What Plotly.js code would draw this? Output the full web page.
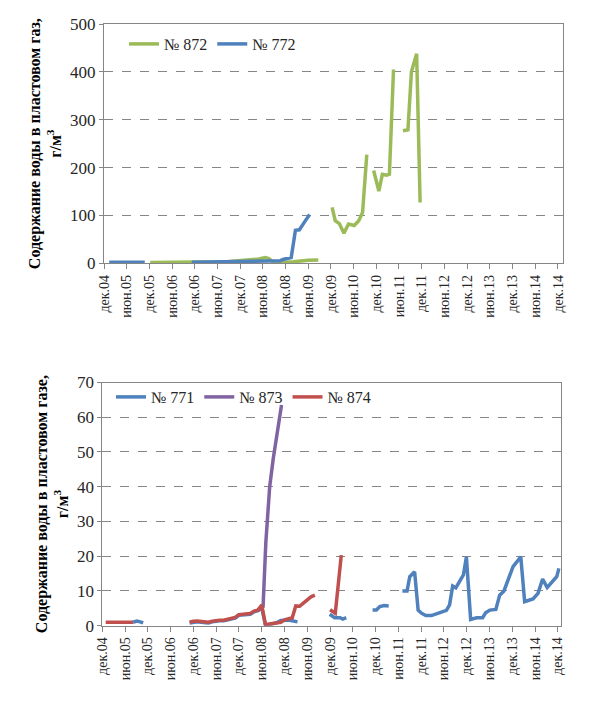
<!DOCTYPE html>
<html>
<head>
<meta charset="utf-8">
<script src="https://cdn.plot.ly/plotly-3.0.1.min.js"></script>
<style>
html,body{margin:0;padding:0;background:#fff;}
#chart{width:599px;height:725px;}
</style>
</head>
<body>
<div id="chart"></div>
<script>
// ---- tick labels (shared by both charts) ----
var tickDates = ['2004-12-01','2005-06-01','2005-12-01','2006-06-01','2006-12-01','2007-06-01','2007-12-01',
  '2008-06-01','2008-12-01','2009-06-01','2009-12-01','2010-06-01','2010-12-01','2011-06-01','2011-12-01',
  '2012-06-01','2012-12-01','2013-06-01','2013-12-01','2014-06-01','2014-12-01'];
var tickLabels = ['дек.04','июн.05','дек.05','июн.06','дек.06','июн.07','дек.07','июн.08','дек.08','июн.09',
  'дек.09','июн.10','дек.10','июн.11','дек.11','июн.12','дек.12','июн.13','дек.13','июн.14','дек.14'];

// ---- top chart: well 872 ----
var x872 = ['2005-12-08','2006-06-01','2006-11-07','2007-06-20','2007-09-01','2007-12-01','2008-03-01','2008-05-01',
  '2008-06-20','2008-07-20','2008-08-20','2008-11-10','2009-02-01','2009-04-01','2009-06-01','2009-08-21',
  '2009-10-15',
  '2009-12-10','2010-01-04','2010-02-06','2010-03-15','2010-04-21','2010-06-06','2010-07-12','2010-08-12','2010-09-15',
  '2010-10-15',
  '2010-11-09','2010-12-21','2011-01-18','2011-02-21','2011-03-16','2011-04-18',
  '2011-05-20',
  '2011-07-03','2011-08-12','2011-09-09','2011-10-21','2011-11-18'];
var y872 = [1.5,1.5,1.5,3,4,6,8,9,
  12,10,3,1.5,3,5,6.5,7,
  null,
  117,89,83,63,82,79,89,106,227,
  null,
  194,151,186,184,186,405,
  null,
  277,279,400,438,127];

// ---- top chart: well 772 ----
var x772 = ['2005-01-12','2005-04-01','2005-07-01','2005-10-25',
  '2006-03-01',
  '2006-11-07','2007-06-01','2008-01-01','2008-06-01','2008-10-20','2008-11-10','2008-12-20','2009-01-15',
  '2009-02-18','2009-03-22','2009-05-04','2009-06-12'];
var y772 = [2,2,2,2,
  null,
  2,2.5,3.5,4.5,5.5,8,10,12,
  69,70,87,102];

// ---- bottom chart: well 771 ----
var x771 = ['2005-08-04','2005-09-04','2005-10-01','2005-10-25',
  '2006-03-01',
  '2006-11-01','2006-12-01','2007-01-01','2007-02-01','2007-03-01','2007-04-01','2007-05-01','2007-06-01',
  '2007-07-01','2007-08-01','2007-09-01','2007-10-01','2007-11-01','2007-12-01','2008-01-01','2008-02-01',
  '2008-03-01','2008-04-01','2008-05-01','2008-06-01','2008-07-01','2008-08-01','2008-09-01','2008-10-01',
  '2008-11-01','2008-12-01','2009-01-01','2009-02-01','2009-03-15',
  '2009-08-01',
  '2009-11-28','2010-01-07','2010-02-19','2010-03-13','2010-04-10',
  '2010-08-01',
  '2010-11-07','2010-12-07','2011-01-04','2011-02-07','2011-03-16',
  '2011-05-20',
  '2011-07-04','2011-08-10','2011-09-01','2011-10-10','2011-11-07','2011-12-04','2012-01-07','2012-02-21',
  '2012-04-01','2012-05-10','2012-06-21','2012-07-16','2012-08-10','2012-09-04','2012-10-07','2012-11-04',
  '2012-11-28','2013-01-01','2013-02-18','2013-04-07','2013-05-01','2013-06-04','2013-07-22','2013-08-22',
  '2013-09-25','2013-10-28','2013-12-07','2014-02-07','2014-03-10','2014-04-19','2014-05-16','2014-06-25',
  '2014-08-01','2014-09-07','2014-10-16','2014-11-22','2014-12-10'];
var y771 = [1.0,1.35,1.1,0.8,
  null,
  0.8,1.1,1.15,1.0,0.8,0.8,1.1,1.35,
  1.4,1.4,1.6,1.9,2.2,3.0,3.1,3.1,
  3.3,4.0,4.3,5.3,0.2,0.3,0.5,0.9,
  1.5,1.6,1.6,1.4,1.1,
  null,
  3.3,2.3,2.3,1.9,2.3,
  null,
  4.5,4.5,5.5,5.8,5.7,
  null,
  10,10,14.1,15.5,4.5,3.6,2.9,2.9,
  3.4,3.9,4.4,6.0,11.4,10.9,13.1,14.6,
  19.8,1.8,2.3,2.3,3.7,4.5,4.7,8.8,
  10.0,13.1,17.0,19.8,6.9,7.4,7.7,9.3,
  13.4,11.0,12.6,14.1,16.5];

// ---- bottom chart: well 873 ----
var x873 = ['2008-05-01','2008-06-12','2008-07-04','2008-08-04','2008-09-01','2008-09-28','2008-11-07'];
var y873 = [4.3,5.5,24,40,48,54,63.5];

// ---- bottom chart: well 874 ----
var x874 = ['2004-12-28','2005-03-01','2005-06-01','2005-08-04',
  '2006-03-01',
  '2006-11-01','2006-12-01','2007-01-01','2007-02-01','2007-03-01','2007-04-01','2007-05-01','2007-06-01',
  '2007-07-01','2007-08-01','2007-09-01','2007-10-01','2007-11-01','2007-12-01','2008-01-01','2008-02-01',
  '2008-03-01','2008-04-01','2008-05-01','2008-06-01','2008-07-01','2008-08-01','2008-09-01','2008-10-01',
  '2008-11-01','2008-12-01','2009-01-01','2009-02-01','2009-03-01','2009-04-01','2009-05-01','2009-06-01',
  '2009-07-01','2009-08-01',
  '2009-10-01',
  '2009-12-01','2010-01-12','2010-03-01'];
var y874 = [1.0,1.0,1.0,1.0,
  null,
  1.0,1.3,1.35,1.2,1.0,1.0,1.3,1.55,
  1.6,1.6,1.8,2.1,2.4,3.2,3.3,3.3,
  3.5,4.2,4.5,5.9,0.3,0.5,0.7,0.9,
  1.0,1.7,2.1,2.3,5.7,5.6,6.5,7.5,
  8.3,8.8,
  null,
  4.6,3.6,20.3];

// ---- styling ----
var FONT = 'Liberation Serif';
var GREEN = '#9BBB59', BLUE = '#4F81BD', PURPLE = '#8064A2', RED = '#C0504D';
var LW = 3.5;

function line(x, y, name, color, xa, ya, leg) {
  return {x: x, y: y, name: name, type: 'scatter', mode: 'lines', xaxis: xa, yaxis: ya,
    legend: leg, connectgaps: false, line: {color: color, width: LW}, hoverinfo: 'skip'};
}

var traces = [
  line(x872, y872, '№ 872', GREEN, 'x', 'y', 'legend'),
  line(x772, y772, '№ 772', BLUE, 'x', 'y', 'legend'),
  line(x771, y771, '№ 771', BLUE, 'x2', 'y2', 'legend2'),
  line(x873, y873, '№ 873', PURPLE, 'x2', 'y2', 'legend2'),
  line(x874, y874, '№ 874', RED, 'x2', 'y2', 'legend2')
];

function xaxisCfg(domain, anchor, range) {
  return {domain: domain, anchor: anchor, type: 'date', range: range,
    tickmode: 'array', tickvals: tickDates, ticktext: tickLabels, tickangle: -90,
    ticks: 'outside', ticklen: 5, tickcolor: '#868686',
    showline: true, linecolor: '#868686', linewidth: 1, mirror: true,
    showgrid: false, zeroline: false,
    tickfont: {family: FONT, size: 14, color: '#262626'}};
}
function yaxisCfg(domain, anchor, range, dtick, title) {
  return {domain: domain, anchor: anchor, range: range, dtick: dtick, tick0: 0,
    ticks: 'outside', ticklen: 4, tickcolor: '#868686',
    showline: true, linecolor: '#868686', linewidth: 1, mirror: true,
    showgrid: true, gridcolor: '#868686', griddash: 'dash', gridwidth: 1, zeroline: false,
    tickfont: {family: FONT, size: 17, color: '#262626'},
    title: {text: title, standoff: 4, font: {family: FONT, size: 16, color: '#000'}}};
}

var layout = {
  width: 599, height: 725, autosize: false,
  margin: {l: 0, r: 0, t: 0, b: 0},
  paper_bgcolor: '#fff', plot_bgcolor: '#fff',
  font: {family: FONT},
  showlegend: true,
  xaxis: xaxisCfg([104/599, 562.7/599], 'y', ['2004-12-01', '2015-01-08']),
  yaxis: yaxisCfg([1 - 263.3/725, 1 - 24/725], 'x', [0, 500], 100,
    '<b>Содержание воды в пластовом газ,</b><br><b>г/м<sup>3</sup></b>'),
  xaxis2: xaxisCfg([102.3/599, 560.7/599], 'y2', ['2004-12-01', '2014-12-24']),
  yaxis2: yaxisCfg([1 - 625.7/725, 1 - 382.5/725], 'x2', [0, 70], 10,
    '<b>Содержание воды в пластовом газе,</b><br><b>г/м<sup>3</sup></b>'),
  legend: {orientation: 'h', x: 124/599, y: 1 - 44/725, xanchor: 'left', yanchor: 'middle',
    bgcolor: 'rgba(0,0,0,0)', borderwidth: 0, font: {family: FONT, size: 16, color: '#262626'}},
  legend2: {orientation: 'h', x: 111/599, y: 1 - 397/725, xanchor: 'left', yanchor: 'middle',
    bgcolor: 'rgba(0,0,0,0)', borderwidth: 0, font: {family: FONT, size: 16, color: '#262626'}}
};

Plotly.newPlot('chart', traces, layout, {displayModeBar: false, staticPlot: true});
</script>
</body>
</html>
